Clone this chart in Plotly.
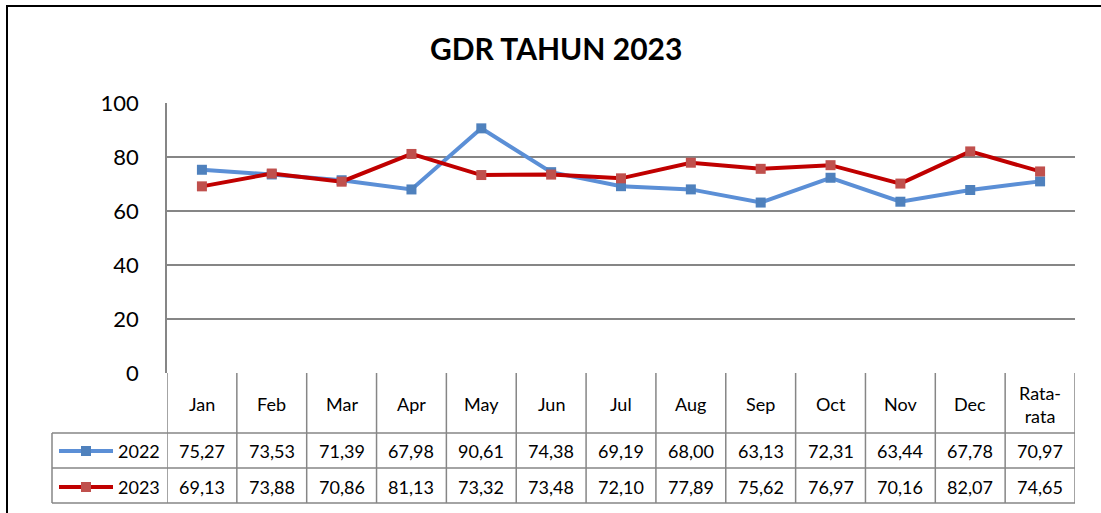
import plotly.graph_objects as go

categories = ["Jan", "Feb", "Mar", "Apr", "May", "Jun", "Jul", "Aug", "Sep", "Oct", "Nov", "Dec", "Rata-<br>rata"]
values_2022 = [75.27, 73.53, 71.39, 67.98, 90.61, 74.38, 69.19, 68.00, 63.13, 72.31, 63.44, 67.78, 70.97]
values_2023 = [69.13, 73.88, 70.86, 81.13, 73.32, 73.48, 72.10, 77.89, 75.62, 76.97, 70.16, 82.07, 74.65]
series_names = ["2022", "2023"]
y_ticks = [0, 20, 40, 60, 80, 100]

W, H = 1101, 513
def px(x):
    return x / W
def py(y):
    return 1 - y / H

FONT = "Lato"
GRID = "#868686"
line_colors = ["#5B8FD6", "#C00000"]
marker_colors = ["#4F81BD", "#C0504D"]

x_idx = list(range(len(categories)))
fig = go.Figure()
for name, vals, lc, mc in zip(series_names, [values_2022, values_2023], line_colors, marker_colors):
    fig.add_trace(go.Scatter(
        x=x_idx, y=vals, mode="lines+markers", name=name,
        line=dict(color=lc, width=4),
        marker=dict(symbol="square", size=10, color=mc, line=dict(width=0)),
        showlegend=False, cliponaxis=False,
    ))

shapes = []
annotations = []
def note(x, y, text, xref="paper", size=18, xanchor="center"):
    annotations.append(dict(x=x, y=y, xref=xref, yref="paper", text=text, showarrow=False,
                            xanchor=xanchor, yanchor="middle", align="center",
                            font=dict(family=FONT, size=size, color="black")))

# outer border
shapes.append(dict(type="rect", xref="paper", yref="paper", x0=px(7), x1=px(1140), y0=py(540), y1=py(6),
                   line=dict(color="black", width=2), layer="below"))
# table vertical lines
for k in range(len(categories) + 1):
    shapes.append(dict(type="line", xref="x", yref="paper", x0=k - 0.5, x1=k - 0.5, y0=py(503), y1=py(373),
                       line=dict(color=GRID, width=1.5)))
# legend box left edge
shapes.append(dict(type="line", xref="paper", yref="paper", x0=px(52), x1=px(52), y0=py(503), y1=py(433),
                   line=dict(color=GRID, width=1.5)))
for yy in [433, 468, 503]:
    shapes.append(dict(type="line", xref="paper", yref="paper",
                       x0=px(52), x1=px(1075), y0=py(yy), y1=py(yy), line=dict(color=GRID, width=1.5)))
# header labels
for i, c in enumerate(categories):
    note(i, py(404), c, xref="x")
# values
row_y = [451, 487]
for r, vals in enumerate([values_2022, values_2023]):
    for i, v in enumerate(vals):
        note(i, py(row_y[r]), f"{v:.2f}".replace(".", ","), xref="x")
    yk = row_y[r]
    shapes.append(dict(type="line", xref="paper", yref="paper", x0=px(59), x1=px(113), y0=py(yk), y1=py(yk),
                       line=dict(color=line_colors[r], width=4)))
    shapes.append(dict(type="rect", xref="paper", yref="paper", x0=px(81), x1=px(91), y0=py(yk + 5), y1=py(yk - 5),
                       line=dict(width=0), fillcolor=marker_colors[r]))
    note(px(116), py(yk), series_names[r], xanchor="left")

note(px(556), py(48), "<b>GDR TAHUN 2023</b>", size=30)

fig.update_layout(
    template="none",
    width=W, height=H,
    autosize=False,
    margin=dict(l=0, r=0, t=0, b=0, pad=0, autoexpand=False),
    paper_bgcolor="white", plot_bgcolor="white",
    shapes=shapes, annotations=annotations,
    xaxis=dict(domain=[px(167), px(1075)], range=[-0.5, len(categories) - 0.5], automargin=False,
               showticklabels=False, showgrid=False, zeroline=False, showline=False, ticks=""),
    yaxis=dict(domain=[py(373), py(103)], range=[0, 100], tickvals=y_ticks, automargin=False,
               showgrid=True, gridcolor=GRID, gridwidth=1.5, zeroline=False,
               showline=True, linecolor=GRID, linewidth=1.5, ticks="",
               tickfont=dict(family=FONT, size=22, color="black"), ticklabelstandoff=22),
)
fig.write_html("out.html", config={"responsive": False, "displayModeBar": False},
               post_script="document.body.style.margin='0';document.body.style.overflow='hidden';")
